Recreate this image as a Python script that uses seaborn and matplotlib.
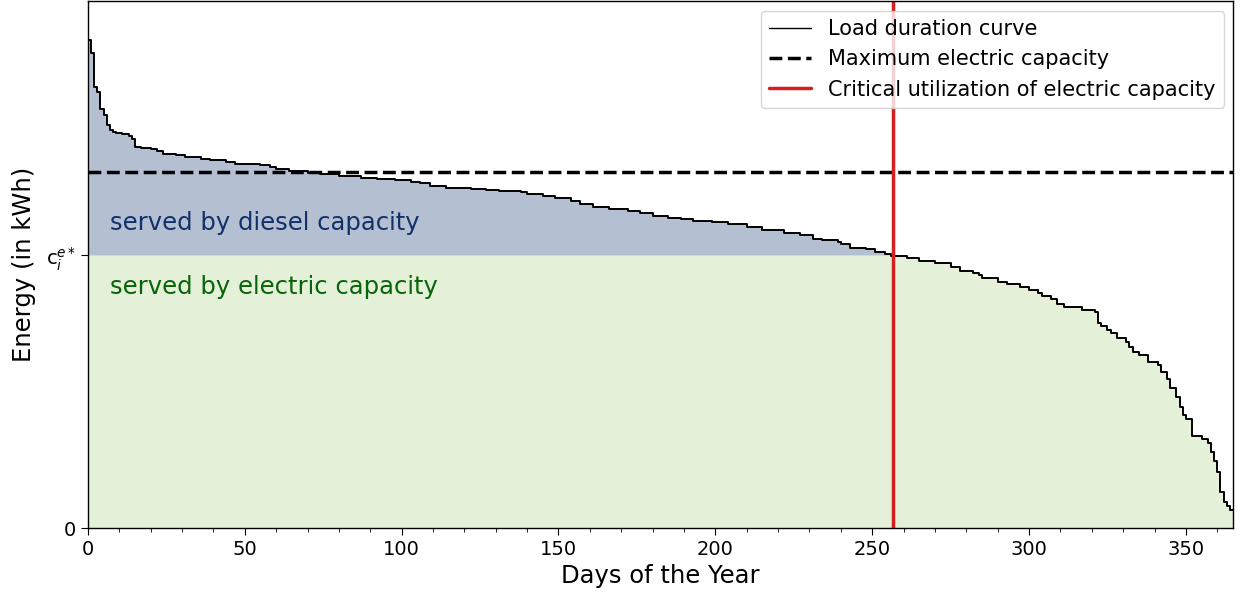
import numpy as np
import pandas as pd
import matplotlib
matplotlib.use("Agg")
import matplotlib.pyplot as plt
from matplotlib.ticker import MultipleLocator
import seaborn as sns

# Sorted daily load (kWh): each level starts on the given day and holds until the next start
level_start_day = [0, 1, 2, 3, 4, 5, 6, 7, 8, 9, 11, 13, 14, 15, 17, 20, 22, 24, 28, 31,
                   36, 39, 44, 47, 55, 58, 60, 64, 70, 74, 80, 87, 92, 98, 103, 106, 109,
                   114, 122, 127, 131, 138, 140, 145, 149, 154, 157, 161, 166, 172, 176,
                   180, 185, 189, 193, 199, 204, 210, 215, 222, 227, 231, 234, 239, 240,
                   243, 248, 251, 254, 256, 261, 265, 270, 275, 278, 282, 284, 285, 290,
                   293, 297, 300, 303, 304, 307, 309, 311, 317, 321, 322, 323, 325, 326,
                   328, 331, 332, 333, 335, 338, 341, 342, 344, 345, 347, 348, 349, 350,
                   352, 355, 357, 358, 359, 360, 361, 362, 363, 364]
level_kwh = [1788, 1740, 1615, 1597, 1535, 1513, 1476, 1458, 1451, 1447, 1443, 1436, 1425,
             1397, 1393, 1388, 1382, 1372, 1366, 1360, 1354, 1348, 1342, 1336, 1330, 1323,
             1315, 1309, 1303, 1299, 1289, 1283, 1279, 1275, 1267, 1263, 1254, 1248, 1242,
             1238, 1236, 1231, 1223, 1216, 1208, 1198, 1189, 1177, 1171, 1161, 1153, 1143,
             1137, 1132, 1125, 1120, 1114, 1104, 1092, 1082, 1074, 1061, 1055, 1049, 1040,
             1028, 1021, 1012, 1004, 996, 990, 979, 970, 957, 941, 935, 927, 915, 902, 894,
             884, 874, 862, 850, 838, 823, 811, 801, 792, 750, 740, 725, 714, 695, 682, 664,
             644, 634, 609, 597, 573, 545, 512, 481, 444, 414, 398, 337, 325, 310, 279, 247,
             206, 133, 96, 81, 66]
n_days = 365

c_electric = 1000       # critical electric capacity c_i^{e*}
max_electric = 1304     # maximum electric capacity
critical_day = 256.5    # day at which the load falls to c_i^{e*}

# expand the run-length levels into one value per day
durations = np.diff(level_start_day + [n_days])
daily_load = np.repeat(level_kwh, durations)
days = np.arange(n_days + 1)
load_post = np.append(daily_load, daily_load[-1])
df = pd.DataFrame({"day": days, "load": load_post})

sns.set_style("ticks", rc={"text.color": "black", "axes.labelcolor": "black",
                           "xtick.color": "black", "ytick.color": "black",
                           "axes.edgecolor": "black"})
plt.rcParams["font.family"] = ["DejaVu Sans"]

fig = plt.figure(figsize=(12.44, 5.96), dpi=100)
ax = fig.add_axes([0.0707, 0.114, 0.9204, 0.884])

# shaded regions: diesel above c*, electric below
ax.fill_between(days, c_electric, np.maximum(load_post, c_electric), step="post",
                color="#b4c0d2", linewidth=0)
ax.fill_between(days, 0, np.minimum(load_post, c_electric), step="post",
                color="#e5f0d8", linewidth=0)

sns.lineplot(data=df, x="day", y="load", drawstyle="steps-post", color="black",
             linewidth=1.4, ax=ax, label="Load duration curve")
ax.axhline(max_electric, color="black", linestyle="--", linewidth=2.5,
           label="Maximum electric capacity")
ax.axvline(critical_day, color="#d42020", linewidth=2.5,
           label="Critical utilization of electric capacity")

ax.text(7, (c_electric + max_electric) / 2 - 33, "served by diesel capacity",
        color="#12306a", fontsize=17.5, va="center", ha="left")
ax.text(7, c_electric - 115, "served by electric capacity",
        color="#086408", fontsize=17.5, va="center", ha="left")

ax.set_xlim(0, n_days)
ax.set_ylim(0, 1.08 * max(level_kwh))
ax.set_yticks([0, c_electric])
ax.set_yticklabels(["0", r"c$_i^{e*}$"])
ax.xaxis.set_major_locator(MultipleLocator(50))
ax.xaxis.set_minor_locator(MultipleLocator(10))
ax.tick_params(axis="both", which="major", labelsize=14, length=5)
ax.tick_params(axis="x", which="minor", length=3)
for s in ax.spines.values():
    s.set_visible(True)
    s.set_color("black")
    s.set_linewidth(1.0)

ax.set_xlabel("Days of the Year", fontsize=17.5, labelpad=4)
ax.set_ylabel("Energy (in kWh)", fontsize=17.5, labelpad=7)

leg = ax.legend(loc="upper right", fontsize=15, frameon=True, handlelength=2,
                borderaxespad=0.45)
leg.get_lines()[0].set_linewidth(1.0)

fig.savefig("out.png", dpi=100)
